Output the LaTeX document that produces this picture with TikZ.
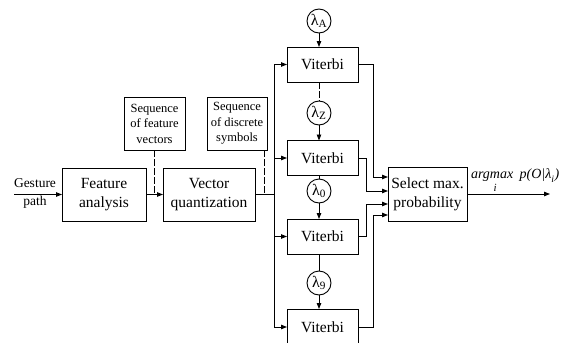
\documentclass[tikz,border=0pt]{standalone}
\usepackage{amsmath}
\usepackage{fontspec}
\setmainfont{Liberation Serif}
\usepackage{tikz}
\usetikzlibrary{arrows.meta}

\tikzset{
  block/.style={draw, align=center, font=\fontsize{15.5}{19}\selectfont},
  seqbox/.style={draw, align=center, font=\fontsize{12.5}{15.5}\selectfont},
  vit/.style={draw, minimum width=71, minimum height=35, font=\fontsize{15.5}{16}\selectfont},
  lam/.style={draw, circle, minimum size=24, font=\fontsize{16}{16}\selectfont},
  dsh/.style={dash pattern=on 7pt off 2pt}
}

\begin{document}
\begin{tikzpicture}[x=1pt, y=1pt, yscale=-1, inner sep=0pt, outer sep=0pt, line width=0.9pt,
  >={Triangle[length=6pt,width=4.5pt]}]
\useasboundingbox (0,0) rectangle (563,343);

% front end
\node[block, minimum width=84, minimum height=53] (fa) at (104,194.5) {Feature\\analysis};
\node[block, minimum width=92, minimum height=53] (vq) at (209,194.5) {Vector\\quantization};
\node[seqbox, minimum width=61, minimum height=53] (sfv) at (154.5,123.5) {Sequence\\of feature\\vectors};
\node[seqbox, minimum width=60, minimum height=53] (sds) at (237,123.5) {Sequence\\of discrete\\symbols};
\node[align=center, font=\fontsize{13.5}{18}\selectfont] (gp) at (35,193.5) {Gesture\\path};

\coordinate (gin) at (14,194.5);
\coordinate (dq) at (264,194.5);
\coordinate (bus) at (274,194.5);

\draw[->] (gin) -- (fa);
\draw[->] (fa) -- (vq);
\draw[dsh] (sfv) -- (sfv |- fa);
\draw[dsh] (sds.south -| dq) -- (dq);
\draw (vq) -- (bus);

% viterbi decoders
\node[vit] (vA) at (322.5,64.5) {Viterbi};
\node[vit] (vZ) at (322.5,158) {Viterbi};
\node[vit] (v0) at (322.5,236.5) {Viterbi};
\node[vit, minimum height=36] (v9) at (322.5,327) {Viterbi};

\node[lam] (lA) at (319,21) {λ\textsubscript{A}};
\node[lam] (lZ) at (319,113) {λ\textsubscript{Z}};
\node[lam] (l0) at (319,191) {λ\textsubscript{0}};
\node[lam] (l9) at (319,283) {λ\textsubscript{9}};

\draw[->] (lA) -- (lA |- vA.north);
\draw[->] (lZ) -- (lZ |- vZ.north);
\draw[->] (l0) -- (l0 |- v0.north);
\draw[->] (l9) -- (l9 |- v9.north);
\draw[dsh] (vA.south -| lA) -- (lZ);
\draw (vZ.south -| l0) -- (l0);
\draw (v0.south -| l9) -- (l9);

% distribution bus
\draw (bus |- vA) -- (bus |- v9);
\draw[->] (bus |- vA) -- (vA);
\draw[->] (bus |- vZ) -- (vZ);
\draw[->] (bus |- v0) -- (v0);
\draw[->] (bus |- v9) -- (v9);

% selection
\node[block, minimum width=79, minimum height=54] (sel) at (427.5,194) {Select max.\\probability};

\coordinate (in1) at (388,177);
\coordinate (in2) at (388,191);
\coordinate (in3) at (388,204);
\coordinate (in4) at (388,215);
\coordinate (jA) at (373,0);
\coordinate (jB) at (366,0);

\draw[->] (vA.east) -| (jA |- in1) -- (in1);
\draw[->] (vZ.east) -| (jB |- in2) -- (in2);
\draw[->] (v0.east) -| (jB |- in3) -- (in3);
\draw[->] (v9.east) -| (jA |- in4) -- (in4);

\coordinate (out) at (550,194);
\draw[->] (sel) -- (out);
\node[anchor=south west, font=\fontsize{14}{15}\selectfont] (am) at (471,193)
  {$\mathop{\text{\itshape argmax}}\limits_{\text{\fontsize{11}{11}\selectfont\itshape\hspace{6pt}i}}\;\text{\itshape p(O|λ}_{\text{\itshape i}}\text{\itshape )}$};

\end{tikzpicture}
\end{document}
